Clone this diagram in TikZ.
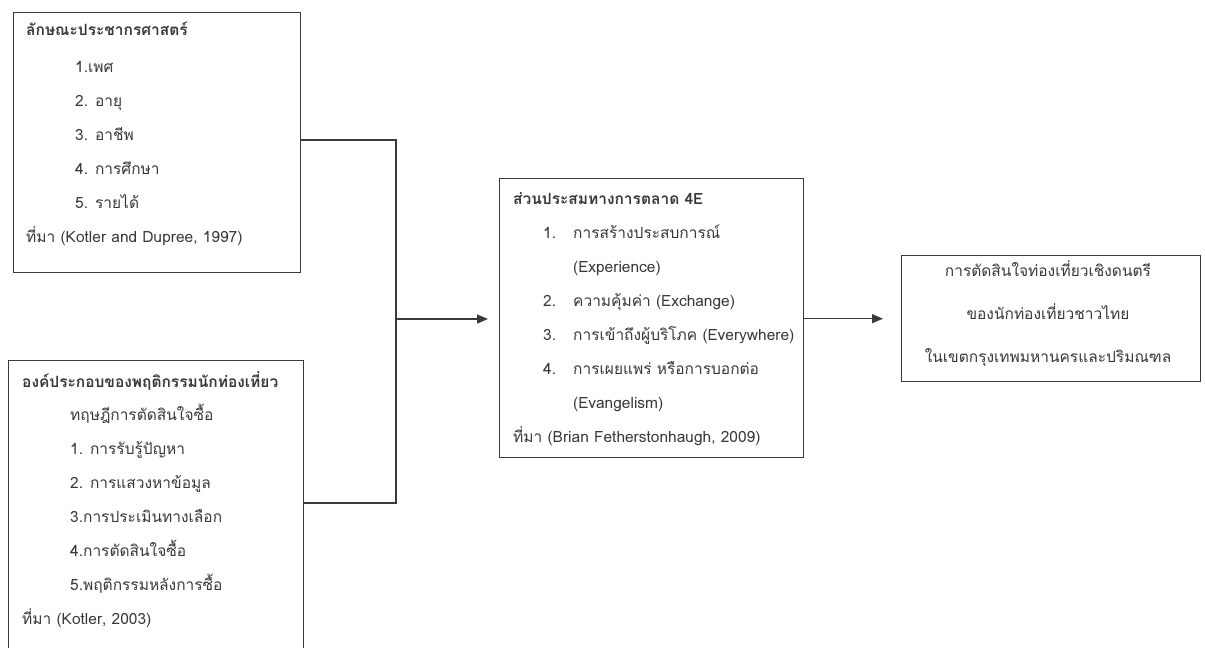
\documentclass[tikz,border=0pt]{standalone}
\usepackage{fontspec}
\setmainfont[Script=Thai]{Loma}
\usetikzlibrary{arrows.meta,calc}
\definecolor{ink}{HTML}{3A3A3A}
\definecolor{txt}{HTML}{383838}
\begin{document}
\begin{tikzpicture}[x=1pt,y=-1pt,
  box/.style={draw=ink,line width=1.4pt,anchor=north west,inner sep=0pt},
  lbl/.style={anchor=west,inner sep=0pt,text=txt,font=\fontsize{15.5}{18}\selectfont,text height=0.7em,text depth=0.25em},
  hd/.style={lbl,font=\fontsize{15.5}{18}\selectfont\bfseries},
  ctr/.style={lbl,anchor=center},
  wire/.style={draw=ink,line width=1.2pt},
  arrowline/.style={wire,-{Triangle[length=11pt,width=9pt]}}]
\useasboundingbox (0,0) rectangle (1205,648);
\clip (0,0) rectangle (1205,648);
% boxes
\node[box,minimum width=287pt,minimum height=260pt] (b1) at (13,12) {};
\node[box,minimum width=295pt,minimum height=300pt] (b2) at (8,360) {};
\node[box,minimum width=304pt,minimum height=279pt] (b3) at (499,178) {};
\node[box,minimum width=299pt,minimum height=126pt] (b4) at (901,255) {};
% box 1 text
\node[hd] (t11) at (26,33) {ลักษณะประชากรศาสตร์};
\node[lbl] (t12) at (75,70) {1.เพศ};
\node[lbl] (t13) at (75,104) {2. อายุ};
\node[lbl] (t14) at (75,138) {3. อาชีพ};
\node[lbl] (t15) at (75,172) {4. การศึกษา};
\node[lbl] (t16) at (75,206) {5. รายได้};
\node[lbl] (t17) at (26,240) {ที่มา (Kotler and Dupree, 1997)};
% box 2 text
\node[hd] (t21) at (22,385) {องค์ประกอบของพฤติกรรมนักท่องเที่ยว};
\node[lbl] (t22) at (70,418) {ทฤษฎีการตัดสินใจซื้อ};
\node[lbl] (t23) at (70,452) {1. การรับรู้ปัญหา};
\node[lbl] (t24) at (70,486) {2. การแสวงหาข้อมูล};
\node[lbl] (t25) at (70,520) {3.การประเมินทางเลือก};
\node[lbl] (t26) at (70,554) {4.การตัดสินใจซื้อ};
\node[lbl] (t27) at (70,588) {5.พฤติกรรมหลังการซื้อ};
\node[lbl] (t28) at (22,622) {ที่มา (Kotler, 2003)};
% box 3 text
\node[hd] (t31) at (513,202) {ส่วนประสมทางการตลาด 4E};
\node[lbl] (n1) at (543,236) {1.};
\node[lbl] (t32) at (573,236) {การสร้างประสบการณ์};
\node[lbl] (t33) at (573,270) {(Experience)};
\node[lbl] (n2) at (543,304) {2.};
\node[lbl] (t34) at (573,304) {ความคุ้มค่า (Exchange)};
\node[lbl] (n3) at (543,338) {3.};
\node[lbl] (t35) at (573,338) {การเข้าถึงผู้บริโภค (Everywhere)};
\node[lbl] (n4) at (543,372) {4.};
\node[lbl] (t36) at (573,372) {การเผยแพร่ หรือการบอกต่อ};
\node[lbl] (t37) at (573,406) {(Evangelism)};
\node[lbl] (t38) at (513,440) {ที่มา (Brian Fetherstonhaugh, 2009)};
% box 4 text
\node[ctr] (t41) at (1048,274) {การตัดสินใจท่องเที่ยวเชิงดนตรี};
\node[ctr] (t42) at (1048,317) {ของนักท่องเที่ยวชาวไทย};
\node[ctr] (t43) at (1048,360) {ในเขตกรุงเทพมหานครและปริมณฑล};
% connectors
\coordinate (j1) at (396,140);
\coordinate (j2) at (396,503);
\coordinate (j3) at (396,319);
\draw[wire] (b1.east|-j1) -- (j1) -- (j2) -- (b2.east|-j2);
\draw[arrowline,shorten >=11pt] (j3) -- (b3.west|-j3);
\draw[arrowline,shorten >=18pt] (b3.east|-b4.west) -- (b4.west);
\end{tikzpicture}
\end{document}
